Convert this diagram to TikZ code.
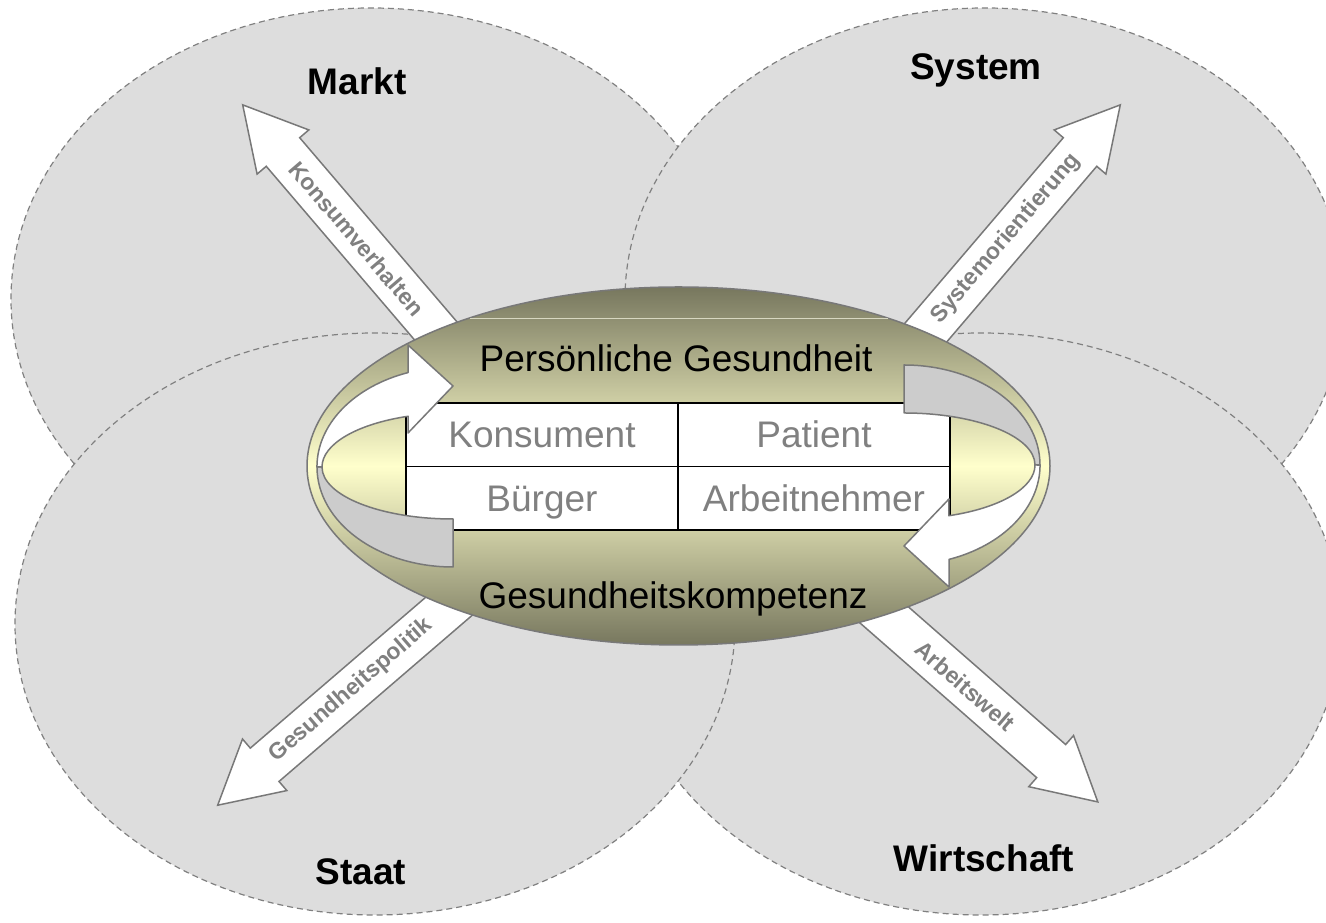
\documentclass[tikz,border=0pt]{standalone}
\usepackage{fontspec}
\setmainfont{Liberation Sans}
\usetikzlibrary{calc}
\definecolor{bubblefill}{RGB}{221,221,221}
\definecolor{dashgray}{RGB}{128,128,128}
\definecolor{olivedark}{RGB}{119,119,94}
\definecolor{paleyellow}{RGB}{255,255,204}
\definecolor{ribbongray}{RGB}{204,204,204}
\definecolor{edgegray}{RGB}{120,120,120}
\definecolor{textgray}{RGB}{128,128,128}
\definecolor{highlight}{RGB}{215,215,192}

\tikzset{
  bubble/.style={fill=bubblefill, draw=dashgray, line width=1.2pt, dash pattern=on 6pt off 4pt},
  barrow/.style={fill=white, draw=edgegray, line width=1.5pt, line join=miter},
  arrowlabel/.style={font=\bfseries\fontsize{23}{25}\selectfont, text=textgray, inner sep=0pt},
  arealabel/.style={font=\bfseries\fontsize{37}{40}\selectfont, anchor=base, inner sep=0pt},
  maintext/.style={font=\fontsize{37}{40}\selectfont, anchor=base, inner sep=0pt},
  cell/.style={fill=white, draw=black, line width=1.8pt, minimum width=272pt, minimum height=63.5pt,
    text height=26.5pt, text depth=0pt, inner sep=0pt, text=textgray, font=\fontsize{37}{40}\selectfont},
  ribbon/.style={draw=edgegray, line width=1.5pt, line join=round},
}

% #1 name, #2 base, #3 angle, #4 length, #5 text angle, #6 text
\newcommand{\blockarrow}[6]{%
  \begin{scope}[shift={#2}, rotate=#3]
    \draw[barrow] (0,-22) -- ({#4-62},-22) -- ({#4-62},-34) -- (#4,0) -- ({#4-62},34) -- ({#4-62},22) -- (0,22) -- cycle;
    \node[arrowlabel, rotate=#5] (#1) at ({#4-176},0) {#6};
  \end{scope}}

\newcommand{\uturnarrow}{%
  \draw[ribbon, fill=ribbongray] (317,456) arc[start angle=180, end angle=270, x radius=136pt, y radius=100pt]
    -- (453,404) arc[start angle=270, end angle=180, x radius=131pt, y radius=52pt] -- cycle;
  \draw[ribbon, fill=white] (322,456) arc[start angle=180, end angle=110, x radius=131pt, y radius=54pt]
    -- (408,490) -- (453,537) -- (408,578) -- (408,550.4)
    arc[start angle=109.3, end angle=180, x radius=136pt, y radius=100pt] -- cycle;}

\begin{document}
\begin{tikzpicture}[x=1pt, y=1pt]
\useasboundingbox (0,0) rectangle (1326,923);
\clip (0,0) rectangle (1326,923);

% four domains
\draw[bubble] (371,624) ellipse [x radius=360pt, y radius=291pt];
\draw[bubble] (985,624) ellipse [x radius=360pt, y radius=291pt];
\draw[bubble] (981,299) ellipse [x radius=360pt, y radius=291pt];
\draw[bubble] (375,299) ellipse [x radius=360pt, y radius=291pt];

\node[arealabel] (markt) at (357,828) {Markt};
\node[arealabel] (system) at (976,843) {System};
\node[arealabel] (staat) at (361,38) {Staat};
\node[arealabel] (wirtschaft) at (984,51) {Wirtschaft};

% block arrows
\blockarrow{konsum}{(470,552)}{130.5}{350}{-49.5}{Konsumverhalten}
\blockarrow{sysor}{(893,552)}{49.5}{350}{49.5}{Systemorientierung}
\blockarrow{gespol}{(483,346)}{220.7}{350}{40.7}{Gesundheitspolitik}
\blockarrow{arbwelt}{(842,345)}{-41.2}{340}{-41.2}{Arbeitswelt}

% central ellipse
\draw[draw=edgegray, line width=1.5pt, top color=olivedark, bottom color=olivedark, middle color=paleyellow]
  (678.5,457) ellipse [x radius=371.5pt, y radius=179pt];
\draw[highlight, line width=0.8pt] (469.5,605) -- (887.5,605);

\node[maintext] (gesundheit) at (676,551) {Persönliche Gesundheit};
\node[maintext] (kompetenz) at (673,314) {Gesundheitskompetenz};

% table
\node[cell] (konsument) at (542,488.25) {Konsument};
\node[cell] (patient) at (814,488.25) {Patient};
\node[cell] (buerger) at (542,424.75) {Bürger};
\node[cell] (arbeitnehmer) at (814,424.75) {Arbeitnehmer};

% u-turn arrows
\uturnarrow
\begin{scope}[rotate around={180:(678.5,457)}]
\uturnarrow
\end{scope}
\end{tikzpicture}
\end{document}
